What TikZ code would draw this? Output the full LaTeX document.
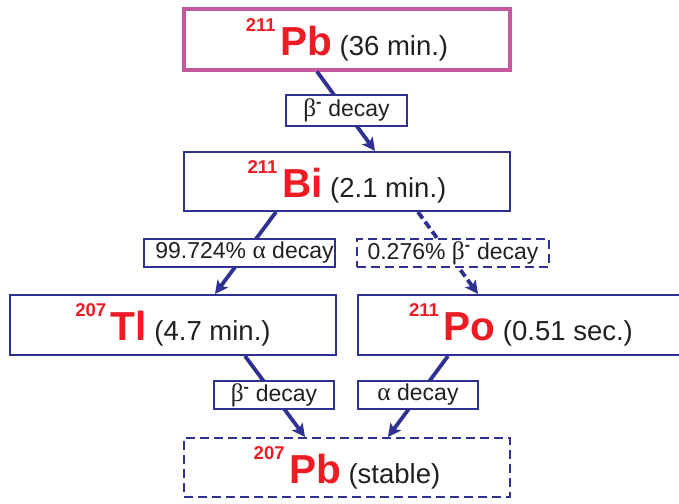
\documentclass[tikz,border=0pt]{standalone}
\usepackage{fontspec}
\setmainfont{Liberation Sans}
\newfontfamily\grk[Scale=1.1]{Liberation Serif}
\usetikzlibrary{arrows.meta}
\definecolor{dblue}{RGB}{46,49,146}
\definecolor{nred}{RGB}{237,28,36}
\definecolor{mag}{RGB}{198,88,160}
\definecolor{txt}{RGB}{35,31,32}
\tikzset{
  isobox/.style={draw=dblue, line width=2pt, fill=white, minimum width=326pt,
    minimum height=60pt, inner sep=0pt, text=txt, font=\fontsize{27.5}{30}\selectfont},
  dashbox/.style={dash pattern=on 9pt off 5pt},
  lbl/.style={draw=dblue, line width=2pt, fill=white, minimum height=28pt,
    inner sep=0pt, text=txt, font=\fontsize{23}{26}\selectfont},
  conn/.style={draw=dblue, line width=3.8pt,
    -{Stealth[length=13pt,width=13pt,inset=3pt]}},
  dconn/.style={conn, dash pattern=on 8pt off 4pt},
}
\newcommand\iso[3]{{\color{nred}\bfseries\raisebox{24pt}{\fontsize{18.5}{18}\selectfont #1}\,\fontsize{40.5}{40}\selectfont #2}\ #3}
\newcommand\bminus{{\grk β}\textsuperscript{\bfseries -}}
\newcommand\galpha{{\grk α}}
\begin{document}
\begin{tikzpicture}[x=1pt,y=-1pt]
\useasboundingbox (0,0) rectangle (679,503);
% isotope boxes
\node[isobox, draw=mag, line width=4pt] (pbA) at (347,39.5) {\iso{211}{Pb}{(36 min.)}};
\node[isobox, minimum height=59pt] (bi) at (347,181.5) {\iso{211}{Bi}{(2.1 min.)}};
\node[isobox] (tl) at (173,325) {\iso{207}{Tl}{(4.7 min.)}};
\node[isobox] (po) at (521,325) {\iso{211}{Po}{(0.51 sec.)}};
\node[isobox, dashbox, minimum height=59pt] (pbB) at (347,467.5) {\iso{207}{Pb}{(stable)}};
% connectors
\draw[conn] ([xshift=-30pt]pbA.south) -- ([xshift=28pt]bi.north);
\draw[conn] ([xshift=-71pt]bi.south) -- ([xshift=42pt]tl.north);
\draw[dconn] ([xshift=71pt]bi.south) -- ([xshift=-43pt]po.north);
\draw[conn] ([xshift=72pt]tl.south) -- ([xshift=-42pt]pbB.north);
\draw[conn] ([xshift=-73pt]po.south) -- ([xshift=41pt]pbB.north);
% labels
\node[lbl, minimum width=121pt, minimum height=31pt] (l1) at (346.5,110.5) {\bminus\ decay};
\node[lbl, minimum width=191pt] (l2) at (239.5,253) {\hspace*{10pt}99.724\% \galpha\ decay};
\node[lbl, dashbox, minimum width=192pt] (l3) at (453,253) {0.276\% \bminus\ decay};
\node[lbl, minimum width=120pt] (l4) at (274,395) {\bminus\ decay};
\node[lbl, minimum width=120pt] (l5) at (418,395) {\galpha\ decay};
\end{tikzpicture}
\end{document}
